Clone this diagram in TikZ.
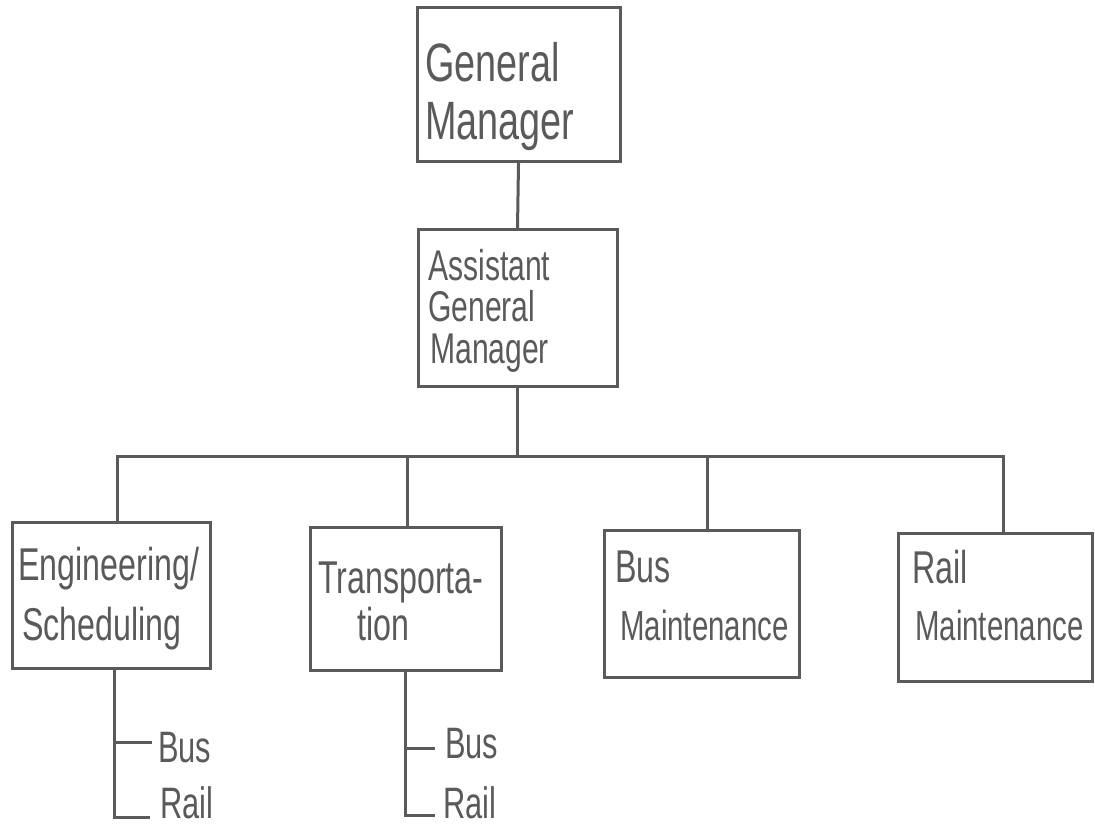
\documentclass[tikz,border=0pt]{standalone}
\usepackage{fontspec}
\newfontfamily\hand[FakeStretch=0.7]{Liberation Sans}
\definecolor{ink}{HTML}{5A5A5A}
\tikzset{
  box/.style={draw=ink, line width=3pt, inner sep=0pt},
  link/.style={draw=ink, line width=3pt, line cap=rect},
  txt/.style={anchor=base west, inner sep=0pt, text=ink, font=\hand\fontsize{46}{50}\selectfont},
  bigtxt/.style={txt, font=\hand\fontsize{54}{60}\selectfont},
  midtxt/.style={txt, font=\hand\fontsize{43}{46}\selectfont},
  mtxt/.style={txt, font=\hand\fontsize{42}{46}\selectfont},
  subtxt/.style={txt, font=\hand\fontsize{44}{48}\selectfont}
}
\begin{document}
\begin{tikzpicture}[x=1pt,y=-1pt]
\fill[white] (0,0) rectangle (1095,834);
\useasboundingbox (0,0) rectangle (1095,834);

% boxes
\node[box, minimum width=203pt, minimum height=154pt] (gm) at (518.5,85) {};
\node[box, minimum width=199pt, minimum height=156pt] (agm) at (517.5,308) {};
\node[box, minimum width=198pt, minimum height=146pt] (eng) at (111,595) {};
\node[box, minimum width=191pt, minimum height=143pt] (trans) at (405.5,598.5) {};
\node[box, minimum width=195pt, minimum height=147pt] (busm) at (701.5,603.5) {};
\node[box, minimum width=194pt, minimum height=148pt] (railm) at (995,607) {};

% texts
\node[bigtxt] (gm1) at (425,82) {General};
\node[bigtxt] (gm2) at (425,140) {Manager};
\node[midtxt] (agm1) at (428,281) {Assistant};
\node[midtxt] (agm2) at (428,322) {General};
\node[midtxt] (agm3) at (430,363) {Manager};
\node[txt] (eng1) at (18,580) {Engineering/};
\node[txt] (eng2) at (22,640) {Scheduling};
\node[txt] (tr1) at (318,593) {Transporta-};
\node[txt] (tr2) at (357,640) {tion};
\node[txt] (bm1) at (615,582) {Bus};
\node[mtxt] (bm2) at (620,640) {Maintenance};
\node[txt] (rm1) at (912,583) {Rail};
\node[mtxt] (rm2) at (915,640) {Maintenance};

% sub labels
\node[subtxt] (eb) at (158,762) {Bus};
\node[subtxt] (er) at (160,818) {Rail};
\node[subtxt] (tb) at (445,758) {Bus};
\node[subtxt] (tr) at (443,818) {Rail};

% connectors
\coordinate (barA) at (517.5,456);
\coordinate (barE) at (117,456);
\coordinate (barT) at (407,456);
\coordinate (barB) at (707,456);
\coordinate (barR) at (1003,456);
\draw[link] (gm.south) -- (agm.north);
\draw[link] (agm.south) -- (barA);
\draw[link] (barE) -- (barR);
\draw[link] (barE) -- (barE |- eng.north);
\draw[link] (barT) -- (barT |- trans.north);
\draw[link] (barB) -- (barB |- busm.north);
\draw[link] (barR) -- (barR |- railm.north);

% sub-branches
\coordinate (eTop) at (114,668);
\coordinate (eEnd) at (114,817);
\coordinate (tTop) at (405,670);
\coordinate (tEnd) at (405,815);
\coordinate (ebT) at (150,742);
\coordinate (erT) at (148,817);
\coordinate (tbT) at (433,748);
\coordinate (trT) at (433,815);
\draw[link] (eTop) -- (eEnd) -- (erT);
\draw[link] (eTop |- ebT) -- (ebT);
\draw[link] (tTop) -- (tEnd) -- (trT);
\draw[link] (tTop |- tbT) -- (tbT);
\end{tikzpicture}
\end{document}
